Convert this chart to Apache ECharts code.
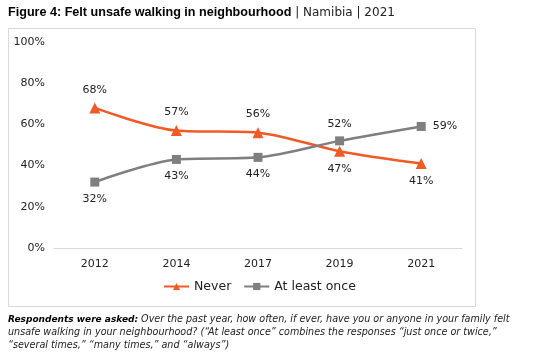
<!DOCTYPE html>
<html><head><meta charset="utf-8">
<script src="https://cdn.jsdelivr.net/npm/echarts@6/dist/echarts.min.js"></script>
<style>html,body{margin:0;padding:0;background:#fff}#c{width:551px;height:360px}</style>
</head><body><div id="c"></div>
<script>
const categories = ['2012','2014','2017','2019','2021'];
const never = [68,57,56,47,41];
const atLeastOnce = [32,43,44,52,59];
const yTicks = [0,20,40,60,80,100];
const neverPos = ['top','top','top','bottom','bottom'];
const oncePos = ['bottom','bottom','bottom','top','right'];

const FONT = '"DejaVu Sans", sans-serif';
const chart = echarts.init(document.getElementById('c'));
chart.setOption({
  animation:false,
  backgroundColor:'#fff',
  textStyle:{fontFamily:FONT},
  graphic:[
    {type:'rect',shape:{x:8.5,y:28.5,width:467,height:278},style:{fill:'none',stroke:'#d9d9d9',lineWidth:1},z:-1},
    {type:'text',left:8,top:6,style:{rich:{b:{fontFamily:'"Liberation Sans", Arial, sans-serif',fontWeight:'bold',fontSize:12.6,fill:'#000'},n:{fontFamily:FONT,fontSize:12,fill:'#222'}},text:'{b|Figure 4: Felt unsafe walking in neighbourhood}{n| | Namibia | 2021}'}},
    {type:'text',left:8,top:313,style:{lineHeight:13,rich:{b:{fontFamily:FONT,fontWeight:'bold',fontStyle:'italic',fontSize:9,fill:'#000',lineHeight:13},i:{fontFamily:FONT,fontStyle:'italic',fontSize:9.6,fill:'#222',lineHeight:13}},
      text:'{b|Respondents were asked:}{i| Over the past year, how often, if ever, have you or anyone in your family felt}\n{i|unsafe walking in your neighbourhood? (“At least once” combines the responses “just once or twice,”}\n{i|“several times,” “many times,” and “always”)}'}}
  ],
  grid:{left:54,right:89,top:42,bottom:112},
  legend:{bottom:62,left:158,itemWidth:25,itemHeight:9,itemGap:12,textStyle:{fontSize:12.5,color:'#222',fontFamily:FONT},
    data:['Never','At least once']},
  xAxis:{type:'category',data:categories,boundaryGap:true,
    axisLine:{lineStyle:{color:'#d9d9d9'}},axisTick:{show:false},
    axisLabel:{color:'#222',fontSize:11,margin:11}},
  yAxis:{type:'value',min:0,max:100,interval:20,
    axisLine:{show:false},axisTick:{show:false},splitLine:{show:false},
    axisLabel:{color:'#222',fontSize:11,margin:9,formatter:v=>v+'%'}},
  series:[
    {name:'Never',type:'line',smooth:0.3,data:never.map((v,i)=>({value:v,label:{position:neverPos[i]}})),
      symbol:'triangle',symbolSize:11,color:'#F15A24',lineStyle:{width:2.5,color:'#F15A24'},itemStyle:{color:'#F15A24'},
      label:{show:true,formatter:p=>p.value+'%',color:'#222',fontSize:11,distance:7}},
    {name:'At least once',type:'line',smooth:0.3,data:atLeastOnce.map((v,i)=>({value:v,label:{position:oncePos[i]}})),
      symbol:'rect',symbolSize:9,color:'#7F7F7F',lineStyle:{width:2.5,color:'#7F7F7F'},itemStyle:{color:'#7F7F7F'},
      label:{show:true,formatter:p=>p.value+'%',color:'#222',fontSize:11,distance:7}}
  ]
});
</script></body></html>
